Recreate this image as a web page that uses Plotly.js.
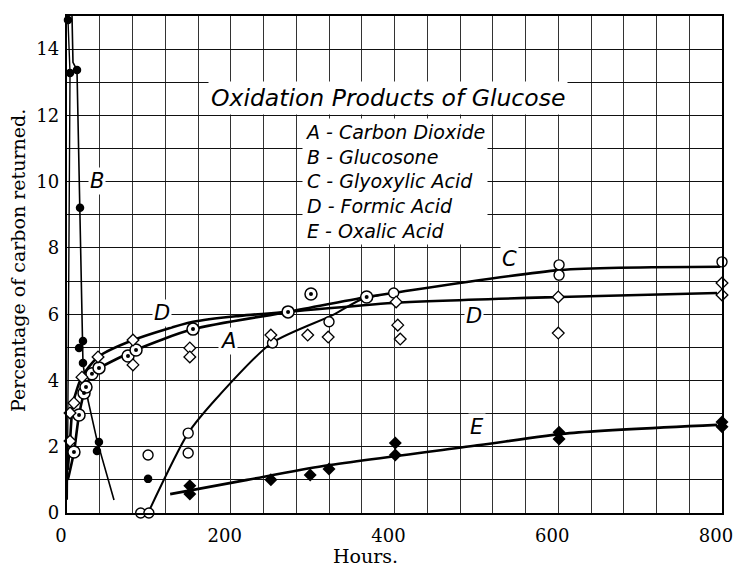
<!DOCTYPE html>
<html>
<head>
<meta charset="utf-8">
<script src="https://cdn.plot.ly/plotly-3.0.1.min.js"></script>
<style>html,body{margin:0;padding:0;background:#fff;}#chart{width:734px;height:569px;}</style>
</head>
<body>
<div id="chart"></div>
<script>
// ---- Data (hours, percentage of carbon returned) ----
// A - Carbon Dioxide (open circles)
const A_hours = [90, 100, 99, 148, 148, 251, 320, 399, 601, 601, 800];
const A_pct   = [0, 0, 1.75, 2.41, 1.81, 5.13, 5.77, 6.64, 7.49, 7.18, 7.58];
// B - Glucosone (filled circles)
const B_hours = [1.2, 6.1, 3.7, 12.2, 15.9, 14.7, 19.5, 19.5, 39, 36.6, 99];
const B_pct   = [14.88, 15.03, 13.28, 13.37, 9.21, 4.98, 5.19, 4.53, 2.14, 1.87, 1.03];
// C - Glyoxylic Acid (circle with centre dot)
const C_hours = [8.5, 14.7, 20.8, 23.2, 30.5, 39.1, 74.5, 84.3, 153.9, 270, 298, 366];
const C_pct   = [1.84, 2.96, 3.62, 3.80, 4.20, 4.38, 4.74, 4.92, 5.55, 6.07, 6.61, 6.52];
// D - Formic Acid (open diamonds)
const D_hours = [3.7, 3.7, 8.5, 18.3, 37.9, 80.6, 80.6, 150, 150, 249, 294, 319, 402, 404, 407, 600, 600, 800, 800, 804];
const D_pct   = [2.17, 3.02, 3.32, 4.10, 4.71, 5.22, 4.47, 4.98, 4.71, 5.37, 5.37, 5.31, 6.37, 5.67, 5.25, 6.52, 5.43, 6.94, 6.58, 6.28];
// E - Oxalic Acid (filled diamonds)
const E_hours = [150, 150, 249, 297, 320, 401, 401, 601, 601, 800, 800];
const E_pct   = [0.82, 0.57, 1.00, 1.15, 1.33, 2.11, 1.75, 2.44, 2.23, 2.75, 2.60];

// Hand-drawn curves (knots)
const A_curve_h = [99, 148, 183, 250, 325, 358, 382];
const A_curve_p = [0, 2.41, 3.47, 5.13, 5.98, 6.43, 6.58];
const B_curve1_h = [0.4, 3.7, 1.2];
const B_curve1_p = [0.4, 13.28, 14.88];
const B_curve2_h = [6.1, 7.3, 12.2, 15.9, 19.5, 19.5, 25.6, 36.6, 57.4];
const B_curve2_p = [15.03, 13.6, 13.37, 9.21, 5.19, 4.53, 3.41, 2.2, 0.39];
const C_curve_h = [1, 8.5, 14.7, 23, 31, 40, 84, 154, 270, 366, 398, 602, 798];
const C_curve_p = [1.0, 1.84, 2.96, 3.8, 4.2, 4.38, 4.92, 5.55, 6.07, 6.52, 6.64, 7.33, 7.43];
const D_curve_h = [1, 3.7, 7.5, 18, 38, 81, 154, 211, 270, 398, 602, 794];
const D_curve_p = [1.3, 2.17, 3.32, 4.1, 4.71, 5.22, 5.77, 5.95, 6.07, 6.34, 6.52, 6.64];
const E_curve_h = [126, 220, 313, 504, 614, 794];
const E_curve_p = [0.57, 1.0, 1.42, 2.05, 2.41, 2.66];

// Texts
const chartTitle = "Oxidation Products of Glucose";
const keyLines = ["A - Carbon Dioxide", "B - Glucosone", "C - Glyoxylic Acid", "D - Formic Acid", "E - Oxalic Acid"];
const curveLabels = ["B", "D", "A", "C", "D", "E"];
const curveLabelH = [36.6, 116, 196.6, 540, 497, 501];
const curveLabelP = [10.02, 6.04, 5.19, 7.67, 5.95, 2.6];
const xTitle = "Hours.";
const yTitle = "Percentage of carbon returned.";
const xTicks = [0, 200, 400, 600, 800];
const yTicks = [0, 2, 4, 6, 8, 10, 12, 14];

const ink = "#000";
const letterFamily = "'DejaVu Sans ExtraLight', 'DejaVu Sans', sans-serif";
function curve(x, y, w, shape) {
  return {x: x, y: y, type: "scatter", mode: "lines", hoverinfo: "skip", showlegend: false,
          line: {color: ink, width: w, shape: shape || "spline", smoothing: 0.7}};
}
const traces = [
  curve(A_curve_h, A_curve_p, 2),
  curve(B_curve1_h, B_curve1_p, 1.4, "linear"),
  curve(B_curve2_h, B_curve2_p, 1.6, "linear"),
  curve(C_curve_h, C_curve_p, 2.6),
  curve(D_curve_h, D_curve_p, 2.6),
  curve(E_curve_h, E_curve_p, 2.6),
  {x: A_hours, y: A_pct, type: "scatter", mode: "markers", name: "A", showlegend: false, cliponaxis: false,
   marker: {symbol: "circle", size: 10, color: "#fff", line: {color: ink, width: 1.4}}},
  {x: B_hours, y: B_pct, type: "scatter", mode: "markers", name: "B", showlegend: false, cliponaxis: false,
   marker: {symbol: "circle", size: 8.5, color: ink, line: {color: ink, width: 0}}},
  {x: C_hours, y: C_pct, type: "scatter", mode: "markers", name: "C", showlegend: false, cliponaxis: false,
   marker: {symbol: "circle", size: 12, color: "#fff", line: {color: ink, width: 1.5}}},
  {x: C_hours, y: C_pct, type: "scatter", mode: "markers", name: "C dot", showlegend: false, hoverinfo: "skip", cliponaxis: false,
   marker: {symbol: "circle", size: 4, color: ink, line: {width: 0}}},
  {x: D_hours, y: D_pct, type: "scatter", mode: "markers", name: "D", showlegend: false, cliponaxis: false,
   marker: {symbol: "diamond", size: 9, color: "#fff", line: {color: ink, width: 1.3}}},
  {x: E_hours, y: E_pct, type: "scatter", mode: "markers", name: "E", showlegend: false, cliponaxis: false,
   marker: {symbol: "diamond", size: 10, color: ink, line: {width: 0}}}
];

const letterFont = {family: letterFamily, size: 21, color: ink, style: "italic", weight: 200};
const annotations = [
  {text: chartTitle, xref: "paper", yref: "paper", x: 0.49, y: 0.835, xanchor: "center", yanchor: "middle",
   showarrow: false, bgcolor: "#fff", borderpad: 2,
   font: {family: letterFamily, size: 23.5, color: ink, style: "italic", weight: 200}},
  {text: keyLines.join("<br>"), xref: "paper", yref: "paper", x: 0.3588, y: 0.668, xanchor: "left", yanchor: "middle",
   align: "left", showarrow: false, bgcolor: "#fff", borderpad: 2,
   font: {family: letterFamily, size: 19, color: ink, style: "italic", weight: 200}},
  {text: xTitle, xref: "paper", yref: "paper", x: 0.455, y: -0.087, xanchor: "center", yanchor: "middle",
   showarrow: false, font: {family: "DejaVu Serif", size: 19, color: ink}},
  {text: yTitle, xref: "paper", yref: "paper", x: -0.0748, y: 0.507, xanchor: "center", yanchor: "middle",
   textangle: -90, showarrow: false, font: {family: "DejaVu Serif", size: 19, color: ink}}
];
curveLabels.forEach(function (t, i) {
  annotations.push({text: t, x: curveLabelH[i], y: curveLabelP[i], xref: "x", yref: "y",
    showarrow: false, bgcolor: "#fff", borderpad: 1, font: letterFont});
});

const layout = {
  width: 734, height: 569,
  margin: {l: 67, r: 12, t: 16, b: 56, pad: 0},
  paper_bgcolor: "#fff", plot_bgcolor: "#fff",
  showlegend: false,
  font: {family: "DejaVu Serif", size: 18, color: ink},
  xaxis: {
    range: [0, 800], tickvals: xTicks, ticktext: xTicks.map(String), ticks: "",
    showgrid: true, gridcolor: "#333", gridwidth: 1,
    minor: {dtick: 40, tick0: 0, showgrid: true, gridcolor: "#333", gridwidth: 1},
    zeroline: false, showline: true, mirror: true, linecolor: ink, linewidth: 2.2,
    ticklabelstandoff: 5, ticklabelshift: -6, ticklabeloverflow: "allow",
    tickfont: {family: "DejaVu Serif", size: 18, color: ink}
  },
  yaxis: {
    range: [0, 15], tickvals: yTicks, ticktext: yTicks.map(String), ticks: "",
    showgrid: true, gridcolor: "#111", gridwidth: 1,
    minor: {dtick: 1, tick0: 0, showgrid: true, gridcolor: "#111", gridwidth: 1},
    zeroline: false, showline: true, mirror: true, linecolor: ink, linewidth: 2.2,
    ticklabelstandoff: 2, tickfont: {family: "DejaVu Serif", size: 18, color: ink}
  },
  annotations: annotations
};

Plotly.newPlot("chart", traces, layout, {staticPlot: true, displayModeBar: false});
</script>
</body>
</html>
